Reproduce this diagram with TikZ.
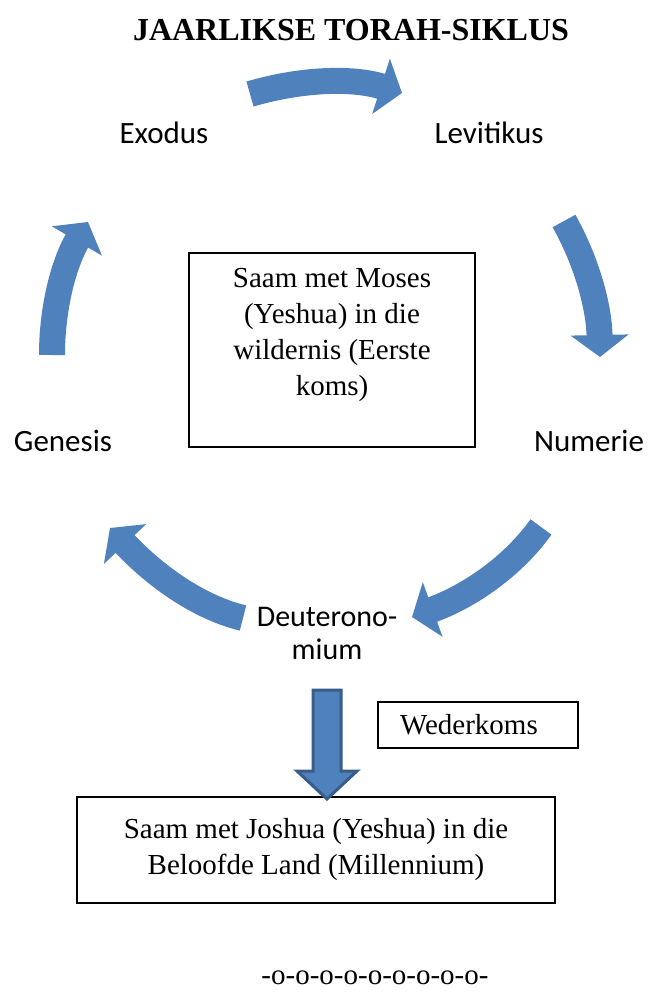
\documentclass[tikz,border=0pt]{standalone}
\usepackage{fontspec}
\setmainfont{Liberation Serif}
\newfontfamily\calibri{Carlito}
\usetikzlibrary{arrows.meta}
\definecolor{cycleblue}{HTML}{4F81BD}
\definecolor{cycleedge}{HTML}{385D8A}
\tikzset{
  book/.style={font=\calibri\fontsize{31}{33}\selectfont, align=center},
  box/.style={draw, line width=1.3pt, font=\fontsize{29}{36}\selectfont, align=center},
  cyclearrow/.style={cycleblue, line width=26pt, -{Triangle[length=22pt,width=57pt]}}
}

\begin{document}
\begin{tikzpicture}[x=1pt, y=-1pt]
  \useasboundingbox (0,0) rectangle (649,992);

  % title
  \node[font=\bfseries\fontsize{32}{38}\selectfont] (title) at (351,30) {JAARLIKSE TORAH-SIKLUS};

  % books of the torah
  \node[book] (exodus) at (164,133) {Exodus};
  \node[book] (levitikus) at (489,133) {Levitikus};
  \node[book] (genesis) at (63,441) {Genesis};
  \node[book] (numerie) at (589,441) {Numerie};
  \node[book, font=\calibri\fontsize{30}{33}\selectfont] (deut) at (327,633) {Deuterono-\\mium};

  % cycle arrows
  \coordinate (exTail) at (250,94);   \coordinate (exTip) at (402,93);
  \coordinate (leTail) at (564,221);  \coordinate (leTip) at (600,357);
  \coordinate (nuTail) at (541,527);  \coordinate (nuTip) at (412,617);
  \coordinate (deTail) at (243,618);  \coordinate (deTip) at (110,528);
  \coordinate (geTail) at (52,355);   \coordinate (geTip) at (88,222);
  \draw[cyclearrow] (exTail) .. controls (305,78) and (355,78) .. (exTip);
  \draw[cyclearrow] (leTail) .. controls (587,262) and (599,307) .. (leTip);
  \draw[cyclearrow] (nuTail) .. controls (513,566) and (470,596) .. (nuTip);
  \draw[cyclearrow] (deTail) .. controls (201,608) and (157,578) .. (deTip);
  \draw[cyclearrow] (geTail) .. controls (52,307) and (64,263) .. (geTip);

  % wilderness box
  \node[box, minimum width=286pt, minimum height=194pt] (moses) at (332,350) {};
  \node[font=\fontsize{29}{36}\selectfont, align=center] (mosestext) at ([yshift=15pt]moses.center)
    {Saam met Moses\\(Yeshua) in die\\wildernis (Eerste\\koms)};

  % second coming
  \node[box, align=left, text width=156pt, inner xsep=22pt, minimum height=46pt] (weder) at (478,725) {Wederkoms};
  \node[box, minimum width=478pt, minimum height=106pt] (joshua) at (316,850)
    {Saam met Joshua (Yeshua) in die\\Beloofde Land (Millennium)};
  \fill[cycleblue, draw=cycleedge, line width=3pt] (313,690) -- (341,690) -- (341,771) -- (357,771)
    -- (327,799) -- (297,771) -- (313,771) -- cycle;

  % end mark
  \node[font=\fontsize{29}{36}\selectfont] (endmark) at (375,978) {-o-o-o-o-o-o-o-o-o-};

\end{tikzpicture}
\end{document}
